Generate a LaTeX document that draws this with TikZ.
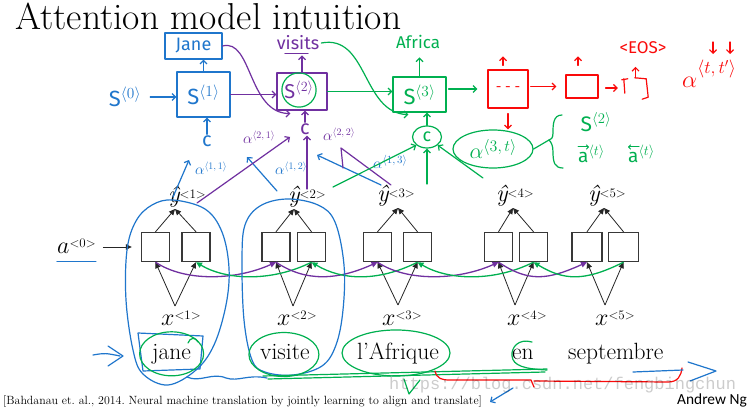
\RequirePackage{fix-cm}
\documentclass[tikz,border=0pt]{standalone}
\usepackage{fontspec}
\usetikzlibrary{arrows.meta,shapes.geometric,calc}
\newfontfamily\hand{Fira Sans}
\newfontfamily\ngfont{Carlito}
\newfontfamily\wmfont{Liberation Mono}
\definecolor{hblue}{RGB}{31,118,204}
\definecolor{hpurple}{RGB}{112,48,160}
\definecolor{hgreen}{RGB}{0,176,80}
\definecolor{hred}{RGB}{250,10,10}
\newcommand{\fsz}[1]{\fontsize{#1}{#1}\selectfont}
% label: base, superscript, raise, superscript size
\newcommand{\mlb}[4]{{\fsz{24}#1}\raisebox{#3}{\fsz{#4}<#2>}}
% handwritten alpha: alpha size, superscript, raise, superscript size
\newcommand{\hal}[4]{{\fsz{#1}$\alpha$}\raisebox{#3}{\fsz{#4}$\langle#2\rangle$}}
\frenchspacing
\begin{document}
\begin{tikzpicture}[x=1pt,y=-1pt,
  rnn/.style={draw=black!78,line width=1.4pt,minimum width=28pt,minimum height=29pt,inner sep=0pt,fill=white},
  blk/.style={draw=black!85,line width=0.8pt,-{Triangle[length=6pt,width=5.5pt]}},
  fwd/.style={draw=hpurple,line width=1.3pt,-{Triangle[length=6pt,width=5.5pt]}},
  bwd/.style={draw=hgreen,line width=1.3pt,-{Triangle[length=6pt,width=5.5pt]}},
  ink/.style={line width=1.2pt,line cap=round,line join=round},
  hand arrow/.style={ink,-{Straight Barb[length=3.5pt,width=7pt]}},
  mlab/.style={inner sep=0pt,anchor=base west},
  word/.style={inner sep=0pt,anchor=base west,font=\fsz{23.5}},
  hw/.style={inner sep=1pt,font=\hand\fsz{18}},
  hbox/.style={draw,ink,inner sep=0pt},
]
\useasboundingbox (0,0) rectangle (750,409);
\fill[white] (0,0) rectangle (750,409);

% title
\node[inner sep=0,anchor=base west,font=\fsz{37.5}] (title) at (15,30) {Attention model intuition};

% RNN boxes
\node[rnn] (b1L) at (155.5,247) {};
\node[rnn] (b1R) at (196,247) {};
\node[rnn] (b2L) at (276,247) {};
\node[rnn] (b2R) at (311.5,247) {};
\node[rnn] (b3L) at (377.5,247) {};
\node[rnn] (b3R) at (417.5,247) {};
\node[rnn] (b4L) at (498.5,247) {};
\node[rnn] (b4R) at (533.5,247) {};
\node[rnn,minimum width=30pt] (b5L) at (587,247) {};
\node[rnn,minimum width=30pt] (b5R) at (623.5,247) {};

\coordinate (t1) at (175,209); \coordinate (t2) at (294,209); \coordinate (t3) at (398,208);
\coordinate (t4) at (513,208); \coordinate (t5) at (604,208);
\coordinate (o1) at (175,306); \coordinate (o2) at (293,306); \coordinate (o3) at (398,305);
\coordinate (o4) at (515,305); \coordinate (o5) at (605,305);

\node[mlab] (y1) at (168,202) {\mlb{\itshape ŷ}{1}{4pt}{13}};
\node[mlab] (y2) at (288,202) {\mlb{\itshape ŷ}{2}{4pt}{13}};
\node[mlab] (y3) at (377,201) {\mlb{\itshape ŷ}{3}{4pt}{13}};
\node[mlab] (y4) at (496,201) {\mlb{\itshape ŷ}{4}{4pt}{13}};
\node[mlab] (y5) at (588,201) {\mlb{\itshape ŷ}{5}{4pt}{13}};
\node[mlab] (x1) at (161,325) {\mlb{$x$}{1}{6pt}{13}};
\node[mlab] (x2) at (277,325) {\mlb{$x$}{2}{6pt}{13}};
\node[mlab] (x3) at (382,325) {\mlb{$x$}{3}{6pt}{13}};
\node[mlab] (x4) at (507,325) {\mlb{$x$}{4}{6pt}{13}};
\node[mlab] (x5) at (595,325) {\mlb{$x$}{5}{6pt}{13}};

\foreach \i in {1,...,5}{
  \draw[blk] (b\i L.north) -- (t\i);
  \draw[blk] (b\i R.north) -- (t\i);
  \draw[blk] (o\i) -- (b\i L.south);
  \draw[blk] (o\i) -- (b\i R.south);
}
\foreach \i/\j in {1/2,2/3,3/4,4/5}{
  \draw[fwd] (b\i L.south) .. controls +(30,20) and +(-40,18) .. (b\j L.south);
  \draw[bwd] (b\j R.south) .. controls +(-40,20) and +(30,18) .. (b\i R.south);
}

\node[mlab] (a0) at (57,253) {\mlb{$a$}{0}{6pt}{13}};
\draw[blk] ([xshift=7pt]a0.east |- b1L.west) -- ([xshift=-9pt]b1L.west);
\draw[ink,hblue] ([yshift=-8pt]a0.south west) -- ([yshift=-8pt]a0.south east);

% words
\node[word] (w1) at (152,359) {jane};
\node[word] (w2) at (260,359) {visite};
\node[word] (w3) at (357,359) {l’Afrique};
\node[word] (w4) at (512,359) {en};
\node[word] (w5) at (568,359) {septembre};

\node[inner sep=0,anchor=base west,font=\fsz{11.9}] (cite) at (3,404) {[Bahdanau et. al., 2014. Neural machine translation by jointly learning to align and translate]};
\node[inner sep=0,anchor=base west,font=\ngfont\fsz{15.4}] (ng) at (677,404) {Andrew Ng};

% ---------- blue annotations
\node[hbox,hblue,minimum width=57pt,minimum height=26pt,font=\hand\fsz{18}] (jane) at (193.5,46) {Jane};
\node[hbox,hblue,minimum width=53pt,minimum height=45pt,font=\hand\fsz{22}] (s1) at (203.5,94.5) {S$^{\langle1\rangle}$};
\node[hw,hblue,font=\hand\fsz{22}] (s0) at (125,97) {S$^{\langle0\rangle}$};
\draw[hand arrow,hblue] ([xshift=8pt]s0.east) -- (s0.east -| s1.west);
\node[hw,hblue,font=\hand\fsz{20}] (c1) at (207,141) {c};
\draw[hand arrow,hblue] (c1.north) -- (c1.north |- s1.south);
\draw[hand arrow,hblue] (s1.north) -- (s1.north |- jane.south);
\coordinate (a11s) at (173,197); \coordinate (a11e) at (189,160);
\draw[hand arrow,hblue] (a11s) -- (a11e);
\node[inner sep=0pt,hblue] (l11) at (211,168) {\hal{15}{1,1}{5pt}{10}};
\coordinate (b12s) at (277,191); \coordinate (b12e) at (247,157);
\draw[hand arrow,hblue] (b12s) -- (b12e);
\node[inner sep=0pt,hblue] (l12) at (291,168) {\hal{15}{1,2}{5pt}{10}};
\coordinate (b13s) at (381,185); \coordinate (b13e) at (317,155);
\draw[hand arrow,hblue] (b13s) -- (b13e);
\node[inner sep=0pt,hblue] (l13) at (390,162) {\hal{15}{1,3}{5pt}{11}};

% ---------- purple annotations
\node[hbox,hpurple,minimum width=50pt,minimum height=37pt] (s2) at (302,91.5) {};
\node[circle,draw=hgreen,ink,minimum size=33pt,inner sep=0,text=hpurple,font=\hand\fsz{20}] (s2c) at (299,90) {S$^{\langle2\rangle}$};
\node[inner sep=0pt,hpurple,font=\hand\fsz{18}] (visits) at (298,43) {visits};
\draw[ink,hpurple] ($(visits.south)+(-13,3)$) -- ($(visits.south)+(10,3)$);
\draw[hand arrow,hpurple] (s2.north) -- ($(s2.north)+(0,-17)$);
\draw[hand arrow,hpurple] (s1.east) -- (s1.east -| s2.west);
\draw[hand arrow,hpurple] (jane.east) .. controls (252,38) and (248,113) .. ($(s2.south west)+(14,3)$);
\node[hw,hpurple,font=\hand\fsz{20}] (c2) at (305,129) {c};
\draw[hand arrow,hpurple] (c2.north) -- (c2.north |- s2.south);
\node[inner sep=0pt,hpurple] (l21) at (259,137) {\hal{15}{2,1}{5pt}{10}};
\node[inner sep=0pt,hpurple] (l22) at (339,134) {\hal{15}{2,2}{5pt}{10}};
\coordinate (p21s) at (197,203); \coordinate (p21e) at (290,137);
\draw[hand arrow,hpurple] (p21s) -- (p21e);
\coordinate (p22s) at (307,189);
\draw[hand arrow,hpurple] (p22s) -- (p22s |- c2.south);
\coordinate (p23s) at (391,185); \coordinate (p23e) at (341,148); \coordinate (p23b) at (343,168);
\draw[ink,hpurple] (p23s) -- (p23e) -- (p23b);

% ---------- green annotations
\node[hbox,hgreen,minimum width=53pt,minimum height=35pt,font=\hand\fsz{22}] (s3) at (419.5,94.5) {S$^{\langle3\rangle}$};
\node[inner sep=0pt,hgreen,font=\hand\fsz{17}] (africa) at (418,42) {Africa};
\draw[hand arrow,hgreen] (s3.north) -- ($(s3.north)+(0,-19)$);
\draw[hand arrow,hgreen] ([xshift=2pt]visits.east) .. controls (368,34) and (362,113) .. ($(s3.south west)+(16,2)$);
\draw[hand arrow,hgreen] (s2.east) -- (s2.east -| s3.west);
\node[ellipse,draw,ink,hgreen,minimum width=29pt,minimum height=22pt,inner sep=0,font=\hand\fsz{18}] (c3) at (427,137) {c};
\draw[hand arrow,hgreen] (c3.north) -- (c3.north |- s3.south);
\coordinate (g1s) at (333,187);
\draw[hand arrow,hgreen] (g1s) -- (c3.south west);
\coordinate (g2s) at (427,184);
\draw[hand arrow,hgreen] (g2s) -- (c3.south);
\coordinate (g3s) at (483,178);
\draw[hand arrow,hgreen] (g3s) -- (c3.south east);

% ---------- red annotations
\node[hbox,hred,minimum width=40pt,minimum height=38pt,font=\hand\fsz{14}] (r1) at (508,89) {\raisebox{-6pt}{- - -}};
\node[hbox,hred,minimum width=32pt,minimum height=23pt] (r2) at (582,86.5) {};
\node[minimum width=25pt,minimum height=20pt,inner sep=0] (r3) at (635.5,88) {};
\draw[hand arrow,hgreen,shorten <=2pt,shorten >=10pt] (s3.east |- r1.west) -- (r1.west);
\draw[hand arrow,hred,shorten <=2pt,shorten >=9pt] (r1.east |- r2.west) -- (r2.west);
\draw[hand arrow,hred,shorten <=7pt,shorten >=5pt] (r2.east |- r3.west) -- (r3.west);
\draw[hand arrow,hred] ($(r1.north)+(-5,-4)$) -- ++(0,-9);
\draw[hand arrow,hred] ($(r2.north)+(-4,-9)$) -- ++(0,-9);
\draw[hand arrow,hred] (r3.north) -- ++(0,-11);
\draw[ink,hred] ($(r3.north west)+(-1,2)$) -- ($(r3.north west)+(5,1)$);
\draw[ink,hred] ($(r3.north west)+(1,1)$) -- ($(r3.south west)+(2,-5)$);
\draw[ink,hred] ($(r3.north west)+(12,0)$) -- ($(r3.north east)+(-2,1)$) -- ($(r3.south east)+(0,-1)$) -- ($(r3.south east)+(-6,1)$);
\node[inner sep=0pt,hred,font=\hand\fsz{17}] (eos) at (643,48) {<EOS>};
\node[inner sep=0,anchor=base west,hred] (att) at (682,88) {\hal{24}{t,t'}{14pt}{18}};
\coordinate (d1) at (713,42); \coordinate (d2) at (730,42);
\draw[hand arrow,hred] (d1) -- ++(0,12);
\draw[hand arrow,hred] (d2) -- ++(0,12);

% alpha<3,t> ellipse and brace
\node[ellipse,draw,ink,hgreen,minimum width=80pt,minimum height=38pt,inner sep=0] (e3) at (493,149) {\hal{22}{3,t}{7pt}{16}};
\draw[hand arrow,hred,shorten <=5pt] (r1.south) -- (r1.south |- e3.north);
\coordinate (brm) at (549,140);
\draw[ink,hgreen] (e3.east) -- (brm);
\draw[ink,hgreen] (562,115) .. controls (553,115) and (553,125) .. (553,133) .. controls (553,138) and (551,140) .. (brm) .. controls (551,142) and (553,145) .. (553,152) .. controls (553,163) and (555,168) .. (563,168);
\node[hw,hgreen,font=\hand\fsz{21}] (bs2) at (596,122) {S$^{\langle2\rangle}$};
\node[inner sep=0pt,anchor=base west,hgreen,font=\hand\fsz{19}] (bfa) at (578,163) {a\raisebox{7pt}{\fsz{14}$\langle t\rangle$}};
\node[inner sep=0pt,anchor=base west,hgreen,font=\hand\fsz{19}] (bba) at (628,163) {a\raisebox{7pt}{\fsz{14}$\langle t\rangle$}};
\draw[ink,hgreen,line width=1pt,-{Straight Barb[length=2pt,width=4.5pt]}] ($(bfa.base west)+(0,-16)$) -- ++(11,0);
\draw[ink,hgreen,line width=1pt,-{Straight Barb[length=2pt,width=4.5pt]}] ($(bba.base west)+(11,-16)$) -- ++(-11,0);

% ---------- bottom annotations
\draw[ink,hblue] plot[smooth cycle,tension=0.6] coordinates {(173,200) (205,209) (222,232) (229,268) (226,305) (214,345) (196,370) (168,385) (143,374) (133,350) (126,300) (127,250) (136,221) (152,205)};
\draw[ink,hblue] plot[smooth cycle,tension=0.6] coordinates {(287,199) (318,205) (335,222) (344,265) (343,310) (336,345) (322,366) (293,375) (265,372) (252,360) (244,320) (242,260) (245,225) (260,206)};
\draw[ink,hblue] (138,333) -- (203,336) -- (200,369) -- (143,371) -- cycle;
\draw[ink,hgreen] (w1.center) ellipse [x radius=32, y radius=22];
\draw[ink,hgreen] (188,343) .. controls (190,337) and (196,337) .. (198,342);
\draw[ink,hgreen] ($(w2.center)+(-1,3)$) ellipse [x radius=35, y radius=22];
\draw[ink,hgreen] ($(w3.center)+(-2,0)$) ellipse [x radius=54, y radius=23];
\draw[ink,hgreen] (532,342) .. controls (518,338) and (511,348) .. (512,356) .. controls (513,366) and (525,369) .. (547,370);
\draw[ink,hgreen] (263,376) -- (547,369);
\draw[ink,hgreen] (268,379) -- (545,372);
\draw[ink,hgreen] (404,379) -- (409,394) -- (420,380);
\draw[ink,hred] (435,371) .. controls (437,379) and (442,380) .. (450,380) -- (531,380) -- (534,387);
\draw[ink,hred] (534,381) -- (668,382) .. controls (678,382) and (681,376) .. (682,368);
\draw[ink,hblue] (633,372) -- (683,370);
\draw[ink,hblue] (688,362) -- (716,371) -- (690,381);
\draw[ink,hblue] (93,355) .. controls (105,353) .. (120,356);
\draw[ink,hblue] (108,346) -- (123,356) -- (108,366);
\draw[hand arrow,hblue] (513,388) -- (490,402);
\draw[ink,hblue] (187,377) .. controls (200,383) and (212,372) .. (226,378) .. controls (238,382) and (248,374) .. (267,378);

% watermark
\node[inner sep=0,anchor=base west,font=\wmfont\fsz{17},text=black,text opacity=0.2] (wm) at (389,389) {https://blog.csdn.net/fengbingchun};
\end{tikzpicture}
\end{document}
